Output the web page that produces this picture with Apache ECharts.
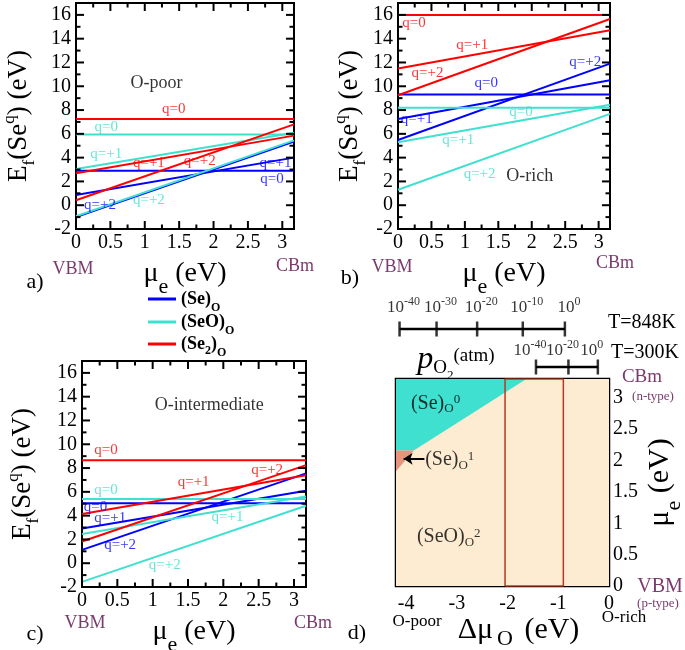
<!DOCTYPE html>
<html>
<head>
<meta charset="utf-8">
<script src="https://cdn.jsdelivr.net/npm/echarts@6/dist/echarts.min.js"></script>
<style>
  html, body { margin: 0; padding: 0; background: #fff; }
  #main { width: 685px; height: 650px; }
</style>
</head>
<body>
<div id="main"></div>
<script>
  const FONT = '"Liberation Serif", "DejaVu Serif", serif'
  const BLUE = '#0000ff'
  const CYAN = '#40e0d0'
  const RED = '#ff0000'
  const PURPLE = '#7b3a6c'
  const KIND_COLORS = [BLUE, CYAN, RED, '#000']

  // mu_e range: VBM -> CBm
  const muE = [0, 3.17]
  const efRange = [-2, 17]

  // formation energies [at VBM, at CBm] for q=0, +1, +2
  const poorSe = [[2.9, 2.9], [0.85, 4.0], [-1.0, 5.35]]
  const poorSeO = [[5.95, 5.95], [3.05, 6.1], [-0.93, 5.45]]
  const poorSe2 = [[7.25, 7.25], [2.68, 5.85], [0.42, 6.8]]

  const richSe = [[9.3, 9.3], [7.25, 10.5], [5.48, 11.9]]
  const richSeO = [[8.2, 8.2], [5.3, 8.45], [1.3, 7.68]]
  const richSe2 = [[16.0, 16.0], [11.5, 14.7], [9.25, 15.65]]

  const interSe = [[5.05, 5.05], [2.92, 6.1], [1.12, 7.55]]
  const interSeO = [[5.4, 5.4], [2.45, 5.6], [-1.57, 4.83]]
  const interSe2 = [[8.65, 8.65], [4.13, 7.4], [1.83, 8.25]]

  // text tags: [text, mu_e, E_f, kind] kind 0=(Se)O 1=(SeO)O 2=(Se2)O 3=black
  const poorTags = [
    ['O-poor', 1.17, 10.25, 3], ['q=0', 1.42, 8.05, 2], ['q=0', 0.44, 6.6, 1],
    ['q=+1', 0.44, 4.3, 1], ['q=+1', 1.06, 3.58, 2], ['q=+2', 1.8, 3.67, 2],
    ['q=+1', 2.9, 3.58, 0], ['q=0', 2.85, 2.18, 0], ['q=+2', 0.35, 0.0, 0],
    ['q=+2', 1.06, 0.42, 1]
  ]
  const richTags = [
    ['O-rich', 1.97, 2.4, 3], ['q=0', 0.24, 15.35, 2], ['q=+1', 1.11, 13.46, 2],
    ['q=+2', 0.44, 11.07, 2], ['q=0', 1.32, 10.27, 0], ['q=+2', 2.8, 12.05, 0],
    ['q=+1', 0.28, 7.22, 0], ['q=0', 1.84, 7.82, 1], ['q=+1', 0.9, 5.48, 1],
    ['q=+2', 1.22, 2.6, 1]
  ]
  const interTags = [
    ['O-intermediate', 1.8, 13.27, 3], ['q=0', 0.34, 9.55, 2], ['q=+1', 1.58, 6.8, 2],
    ['q=+2', 2.62, 7.84, 2], ['q=0', 0.34, 6.18, 1], ['q=0', 0.19, 4.7, 0],
    ['q=+1', 0.4, 3.77, 0], ['q=+1', 2.06, 3.85, 1], ['q=+2', 0.54, 1.55, 0],
    ['q=+2', 1.17, -0.14, 1]
  ]

  // panel d: stability regions in (delta mu_O, mu_e)
  const dMuO = [-4.2, 0]
  const muEd = [0, 3.3]
  const regionSeO2 = [[-4.2, 0], [0, 0], [0, 3.3], [-4.2, 3.3]]
  const regionSe0 = [[-4.2, 3.3], [-1.63, 3.3], [-3.85, 2.16], [-4.2, 2.16]]
  const regionSe1 = [[-4.2, 2.16], [-3.85, 2.16], [-4.2, 1.83]]
  const windowMuO = [-2.05, -0.9]
  const dTags = [
    ['(Se){s|O}{p|0}', -3.42, 2.91], ['(Se){s|O}{p|1}', -3.14, 2.01], ['(SeO){s|O}{p|2}', -3.16, 0.78]
  ]
  const arrowMuO = [-3.64, -4.05]
  const arrowMuE = 2.03

  // oxygen partial pressure scales (exponent of 10, matching delta mu_O)
  const p848Exp = [-40, -30, -20, -10, 0]
  const p848Mu = [-4.13, -3.40, -2.60, -1.70, -0.87]
  const p300Exp = [-40, -20, 0]
  const p300Mu = [-1.44, -0.80, -0.22]

  const DEFECTS = ['(Se)O', '(SeO)O', '(Se2)O']

  // frame ticks (major + minor) for panels a-c: [value, 0=x/1=y, major]
  let frameTicks = []
  for (let i = 0; i <= 12; i++) frameTicks.push([i * 0.25, 0, i % 2 === 0 ? 1 : 0])
  for (let v = -2; v <= 17; v++) frameTicks.push([v, 1, v % 2 === 0 ? 1 : 0])

  let chart = echarts.init(document.getElementById('main'), null, { renderer: 'canvas' })

  const subStyle = { fontFamily: FONT, fontSize: 17, verticalAlign: 'bottom', padding: [0, 0, -6, 0] }
  const supStyle = { fontFamily: FONT, fontSize: 17, verticalAlign: 'top', padding: [-4, 0, 0, 0] }

  let grids = [
    { left: 76, top: 3, width: 218, height: 226 },
    { left: 398, top: 3, width: 212, height: 226 },
    { left: 82, top: 361, width: 224, height: 226 },
    { left: 396, top: 379, width: 213, height: 207 },
    { left: 396, top: 320, width: 213, height: 18 },
    { left: 396, top: 358, width: 213, height: 18 }
  ].map((g, i) => Object.assign({
    show: i < 4,
    borderColor: '#000',
    borderWidth: i === 3 ? 2.5 : 2,
    backgroundColor: 'transparent',
    containLabel: false,
    outerBoundsMode: 'none'
  }, g))

  let xAxes = []
  let yAxes = []
  const nameGapsY = [44, 32, 46]
  ;[0, 1, 2].forEach(g => {
    xAxes.push({
      gridIndex: g, type: 'value', min: muE[0], max: muE[1], interval: 0.5,
      axisLine: { show: false, onZero: false }, axisTick: { show: false }, splitLine: { show: false },
      axisLabel: { margin: 4, fontFamily: FONT, fontSize: 20, color: '#000', showMaxLabel: false },
      name: 'μ{s|e} (eV)', nameLocation: 'middle', nameGap: 31,
      nameTextStyle: { fontFamily: FONT, fontSize: 28, color: '#000', rich: { s: Object.assign({}, subStyle, { fontSize: 22, padding: [0, 0, -10, 0] }) } }
    })
    yAxes.push({
      gridIndex: g, type: 'value', min: efRange[0], max: efRange[1], interval: 2,
      axisLine: { show: false, onZero: false }, axisTick: { show: false }, splitLine: { show: false },
      axisLabel: { margin: 5, fontFamily: FONT, fontSize: 20, color: '#000', showMaxLabel: false },
      name: 'E{s|f}(Se{p|q}) (eV)', nameLocation: 'middle', nameRotate: 90, nameGap: nameGapsY[g],
      nameTextStyle: { fontFamily: FONT, fontSize: 27, color: '#000', rich: { s: subStyle, p: supStyle } }
    })
  })
  // panel d
  xAxes.push({
    gridIndex: 3, type: 'value', min: dMuO[0], max: dMuO[1],
    axisLine: { show: false, onZero: false }, axisTick: { show: false }, splitLine: { show: false },
    axisLabel: { customValues: [-4, -3, -2, -1, 0], fontFamily: FONT, fontSize: 20, color: '#000', margin: 8 },
    name: 'Δμ{s|O} (eV)', nameLocation: 'middle', nameGap: 27,
    nameTextStyle: {
      fontFamily: FONT, fontSize: 30, color: '#000', padding: [0, 0, 0, 32],
      rich: { s: Object.assign({}, subStyle, { fontSize: 22, padding: [0, 4, -5, 4] }) }
    }
  })
  yAxes.push({
    gridIndex: 3, type: 'value', position: 'right', min: muEd[0], max: muEd[1], interval: 0.5,
    axisLine: { show: false, onZero: false }, axisTick: { show: false }, splitLine: { show: false },
    axisLabel: { fontFamily: FONT, fontSize: 20, color: '#000', margin: 4, showMaxLabel: false },
    name: 'μ{s|e} (eV)', nameLocation: 'middle', nameRotate: 90, nameGap: 36,
    nameTextStyle: { fontFamily: FONT, fontSize: 30, color: '#000', rich: { s: Object.assign({}, subStyle, { fontSize: 22, padding: [0, 0, -10, 0] }) } }
  })
  // pressure scales
  ;[4, 5].forEach(g => {
    xAxes.push({ gridIndex: g, type: 'value', min: dMuO[0], max: dMuO[1], show: false })
    yAxes.push({ gridIndex: g, type: 'value', min: -1, max: 1, show: false })
  })

  let series = []
  const panels = [
    [poorSe, poorSeO, poorSe2, poorTags],
    [richSe, richSeO, richSe2, richTags],
    [interSe, interSeO, interSe2, interTags]
  ]
  panels.forEach((p, g) => {
    ;[0, 1, 2].forEach(k => {
      p[k].forEach(pair => {
        series.push({
          type: 'line', name: DEFECTS[k], xAxisIndex: g, yAxisIndex: g,
          data: [[muE[0], pair[0]], [muE[1], pair[1]]],
          showSymbol: false, symbol: 'none', silent: true, z: 2 + k,
          lineStyle: { color: KIND_COLORS[k], width: 2 }, itemStyle: { color: KIND_COLORS[k] }
        })
      })
    })
    series.push({
      type: 'scatter', xAxisIndex: g, yAxisIndex: g, symbolSize: 1, silent: true, z: 10,
      itemStyle: { color: 'transparent' },
      data: p[3].map(t => ({
        value: [t[1], t[2]],
        label: {
          show: true, position: 'inside', formatter: t[0], fontFamily: FONT,
          fontSize: t[3] === 3 ? 18 : 15, color: KIND_COLORS[t[3]]
        }
      }))
    })
    // inward ticks on all four sides of the frame
    series.push({
      type: 'custom', xAxisIndex: g, yAxisIndex: g, silent: true, z: 12,
      data: frameTicks,
      renderItem: function (params, api) {
        let v = api.value(0)
        let len = api.value(2) ? 8 : 4.5
        let st = { stroke: '#000', lineWidth: 2 }
        let a, b
        if (api.value(1) === 0) {
          a = api.coord([v, efRange[0]])
          b = api.coord([v, efRange[1]])
          return { type: 'group', children: [
            { type: 'line', shape: { x1: a[0], y1: a[1], x2: a[0], y2: a[1] - len }, style: st },
            { type: 'line', shape: { x1: b[0], y1: b[1], x2: b[0], y2: b[1] + len }, style: st }
          ] }
        }
        a = api.coord([muE[0], v])
        b = api.coord([muE[1], v])
        return { type: 'group', children: [
          { type: 'line', shape: { x1: a[0], y1: a[1], x2: a[0] + len, y2: a[1] }, style: st },
          { type: 'line', shape: { x1: b[0], y1: b[1], x2: b[0] - len, y2: b[1] }, style: st }
        ] }
      }
    })
  })

  // panel d regions
  const polySeries = (pts, color, z) => ({
    type: 'custom', xAxisIndex: 3, yAxisIndex: 3, silent: true, z: z,
    data: pts,
    renderItem: function (params, api) {
      if (params.dataIndex > 0) return
      return {
        type: 'polygon',
        shape: { points: pts.map(q => api.coord(q)) },
        style: { fill: color }
      }
    }
  })
  series.push(polySeries(regionSeO2, '#fdecd2', 1))
  series.push(polySeries(regionSe0, '#40e0d0', 2))
  series.push(polySeries(regionSe1, '#e8937c', 2))
  series.push({
    type: 'line', xAxisIndex: 3, yAxisIndex: 3, silent: true, z: 5, showSymbol: false, symbol: 'none',
    data: [[windowMuO[0], muEd[0]], [windowMuO[1], muEd[0]], [windowMuO[1], muEd[1]], [windowMuO[0], muEd[1]], [windowMuO[0], muEd[0]]],
    lineStyle: { color: '#b8391e', width: 1.5 }
  })
  series.push({
    type: 'scatter', xAxisIndex: 3, yAxisIndex: 3, symbolSize: 1, silent: true, z: 10,
    itemStyle: { color: 'transparent' },
    data: dTags.map(t => ({
      value: [t[1], t[2]],
      label: {
        show: true, position: 'inside', formatter: t[0], fontFamily: FONT, fontSize: 20, color: '#000',
        rich: {
          s: { fontFamily: FONT, fontSize: 13, verticalAlign: 'bottom', padding: [0, 0, -2, 0] },
          p: { fontFamily: FONT, fontSize: 13, verticalAlign: 'top', padding: [0, 0, 0, 0] }
        }
      }
    })),
    markLine: {
      silent: true, symbol: ['none', 'arrow'], symbolSize: 9, label: { show: false },
      lineStyle: { color: '#000', width: 2, type: 'solid' },
      data: [[{ coord: [arrowMuO[0], arrowMuE] }, { coord: [arrowMuO[1], arrowMuE] }]]
    }
  })

  // pressure bars
  const pLabel = (exps, dist, dx) => ({
    show: true, position: 'top', distance: dist, offset: [dx, 0], fontFamily: FONT, fontSize: 17, color: '#000',
    formatter: p => '10{p|' + exps[p.dataIndex] + '}',
    rich: { p: { fontFamily: FONT, fontSize: 12, verticalAlign: 'top', padding: [-4, 0, 0, 0] } }
  })
  ;[[p848Mu, p848Exp, 4, 5, 4], [p300Mu, p300Exp, 5, 0, -6]].forEach(b => {
    series.push({
      type: 'line', xAxisIndex: b[2], yAxisIndex: b[2], silent: true, showSymbol: false, symbol: 'none',
      data: [[b[0][0], 0], [b[0][b[0].length - 1], 0]], lineStyle: { color: '#000', width: 2.5 }
    })
    series.push({
      type: 'scatter', xAxisIndex: b[2], yAxisIndex: b[2], silent: true, symbol: 'rect', symbolSize: [2.5, 15],
      itemStyle: { color: '#000' }, data: b[0].map(m => [m, 0]), label: pLabel(b[1], b[3], b[4])
    })
  })

  const legendRich = {
    b: { fontFamily: FONT, fontSize: 18, fontWeight: 'bold', color: '#000' },
    o: { fontFamily: FONT, fontSize: 12, fontWeight: 'bold', color: '#000', verticalAlign: 'bottom', padding: [0, 0, -6, 0] },
    t: { fontFamily: FONT, fontSize: 12, fontWeight: 'bold', color: '#000', verticalAlign: 'bottom', padding: [0, 0, -4, 0] }
  }
  const legendText = {
    '(Se)O': '{b|(Se)}{o|O}',
    '(SeO)O': '{b|(SeO)}{o|O}',
    '(Se2)O': '{b|(Se}{t|2}{b|)}{o|O}'
  }
  const legendTops = [290, 313, 335]
  let legends = DEFECTS.map((d, i) => ({
    data: [d], left: 148, top: legendTops[i], selectedMode: false,
    icon: 'rect', itemWidth: 28, itemHeight: 3, padding: 0,
    formatter: n => legendText[n],
    textStyle: { rich: legendRich }
  }))

  const txt = (x, y, text, size, color, extra) => ({
    type: 'text', x: x, y: y, silent: true,
    style: Object.assign({ text: text, fontFamily: FONT, fontSize: size, fill: color || '#000', align: 'center', verticalAlign: 'middle' }, extra || {})
  })
  let graphics = [
    txt(35, 282, 'a)', 22), txt(350, 278, 'b)', 22), txt(35, 634, 'c)', 22), txt(357, 633, 'd)', 22),
    txt(73, 269, 'VBM', 18, PURPLE), txt(295, 266, 'CBm', 18, PURPLE),
    txt(392, 267, 'VBM', 18, PURPLE), txt(615, 263, 'CBm', 18, PURPLE),
    txt(85, 623, 'VBM', 18, PURPLE), txt(313, 623, 'CBm', 18, PURPLE),
    txt(417, 622, 'O-poor', 17), txt(624, 618, 'O-rich', 17),
    txt(642, 377, 'CBm', 19, PURPLE), txt(653, 397, '(n-type)', 13, PURPLE),
    txt(660, 587, 'VBM', 20, PURPLE), txt(658, 604, '(p-type)', 13, PURPLE),
    txt(642, 323, 'T=848K', 20), txt(645, 353, 'T=300K', 20),
    txt(456, 360, '{p|p}{s|O}{t|2}{a|(atm)}', 30, '#000', {
      rich: {
        p: { fontFamily: FONT, fontSize: 32, fontStyle: 'italic' },
        s: { fontFamily: FONT, fontSize: 19, verticalAlign: 'bottom', padding: [0, 0, -2, 0] },
        t: { fontFamily: FONT, fontSize: 13, verticalAlign: 'bottom', padding: [0, 0, -6, 0] },
        a: { fontFamily: FONT, fontSize: 19, verticalAlign: 'top', padding: [3, 0, 0, 0] }
      }
    })
  ]

  chart.setOption({
    animation: false,
    backgroundColor: '#fff',
    grid: grids,
    xAxis: xAxes,
    yAxis: yAxes,
    legend: legends,
    series: series,
    graphic: graphics
  })
</script>
</body>
</html>
